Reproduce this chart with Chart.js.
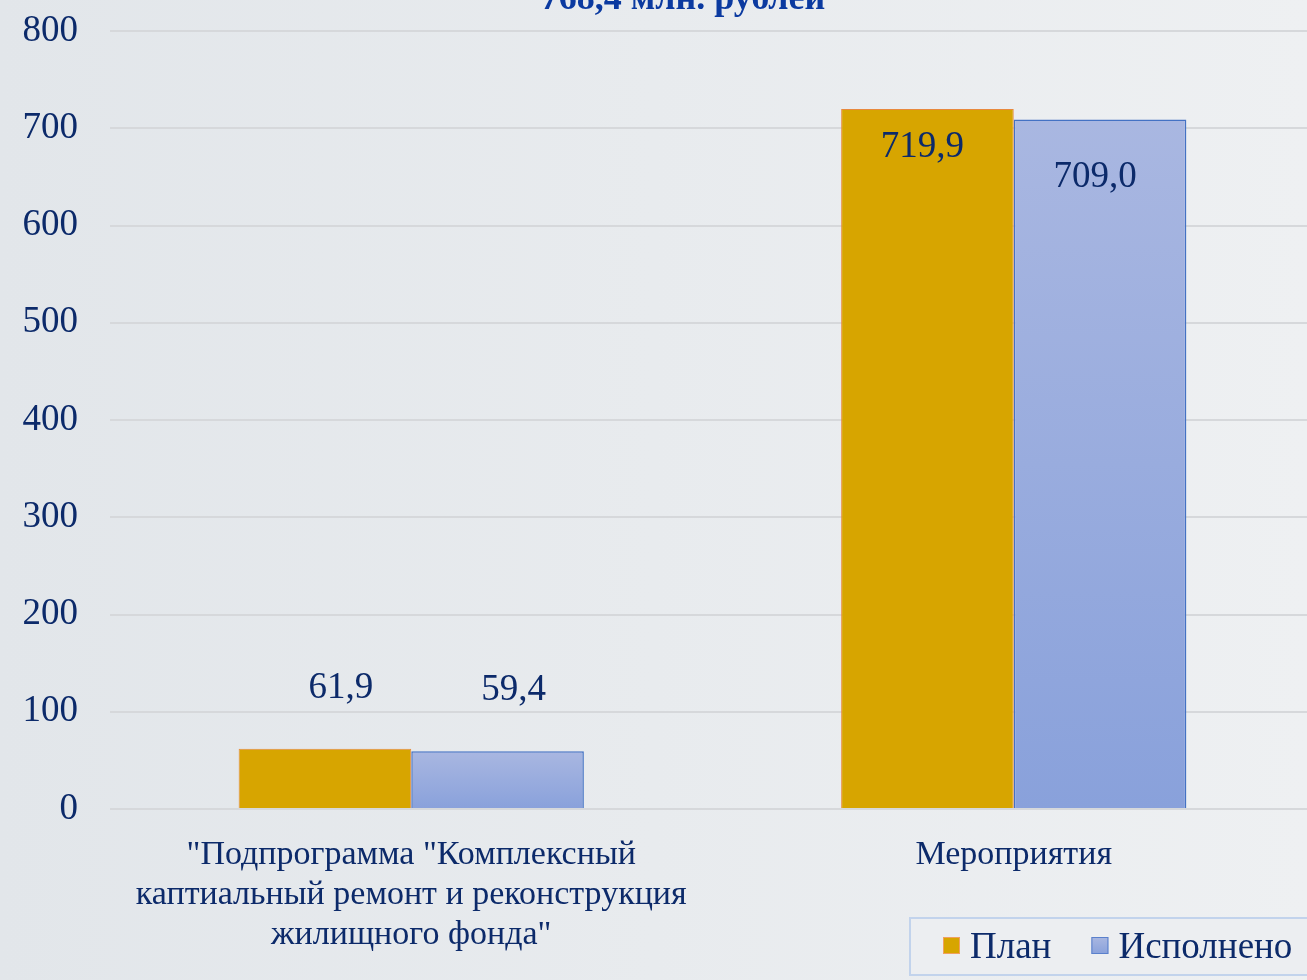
<!DOCTYPE html>
<html>
<head>
<meta charset="utf-8">
<script src="https://cdn.jsdelivr.net/npm/chart.js@4/dist/chart.umd.min.js"></script>
<style>
  html, body { margin: 0; padding: 0; }
  body {
    width: 1307px; height: 980px; overflow: hidden; position: relative;
    background: linear-gradient(90deg, #e2e6ea 0%, #e8ebee 50%, #eef0f2 100%);
  }
  #myChart { position: absolute; left: 0; top: -30px; }
</style>
</head>
<body>
<canvas id="myChart" width="1315" height="1010"></canvas>
<script>
var titleText = '768,4 млн. рублей';
var categories = [
  ['"Подпрограмма "Комплексный', 'каптиальный ремонт и реконструкция', 'жилищного фонда"'],
  'Мероприятия'
];
var seriesNames = ['План', 'Исполнено'];
var planValues = [61.9, 719.9];
var doneValues = [59.4, 709.0];
var yTicks = [0, 100, 200, 300, 400, 500, 600, 700, 800];

var OFFSET = 30;          // canvas is shifted up so the title is cut off like the reference
var FONT = '"Liberation Serif", "Times New Roman", serif';
var NAVY = '#0c2a6a';

function fmt(v) {
  return v.toFixed(1).replace('.', ',');
}

function blueFill(ctx) {
  var chart = ctx.chart;
  var area = chart.chartArea;
  if (!area) return '#98acdf';
  var v = ctx.raw;
  if (typeof v !== 'number') v = 800;
  var top = chart.scales.y.getPixelForValue(v);
  var g = chart.ctx.createLinearGradient(0, top, 0, area.bottom);
  g.addColorStop(0, '#a9b7e1');
  g.addColorStop(1, '#89a1db');
  return g;
}

var titlePlugin = {
  id: 'cutTitle',
  afterDraw(chart) {
    var c = chart.ctx;
    c.save();
    c.font = 'bold 36px ' + FONT;
    c.fillStyle = '#0b3aa0';
    c.textAlign = 'center';
    c.textBaseline = 'alphabetic';
    c.fillText(titleText, 683, 9 + OFFSET);
    c.restore();
  }
};

var valueLabels = {
  id: 'valueLabels',
  afterDatasetsDraw(chart) {
    var c = chart.ctx;
    c.save();
    c.font = '37px ' + FONT;
    c.fillStyle = NAVY;
    c.textAlign = 'center';
    c.textBaseline = 'alphabetic';
    chart.data.datasets.forEach((ds, i) => {
      chart.getDatasetMeta(i).data.forEach((bar, j) => {
        var v = ds.data[j];
        var y = v > 300 ? bar.y + 48 + i * 20 : bar.y - 51;
        var x = v > 300 ? bar.x - 5 : bar.x + 16;
        c.fillText(fmt(v), x, y);
      });
    });
    c.restore();
  }
};

var boxLegend = {
  id: 'boxLegend',
  afterDraw(chart) {
    var c = chart.ctx;
    var top = 918 + OFFSET;
    c.save();
    c.fillStyle = '#eceef1';
    c.fillRect(910, top, 420, 57);
    c.strokeStyle = '#c2d3ec';
    c.lineWidth = 2;
    c.strokeRect(910, top, 420, 57);
    c.font = '37px ' + FONT;
    c.textBaseline = 'middle';
    c.textAlign = 'left';
    var x = 943;
    chart.data.datasets.forEach((ds, i) => {
      var sq = 17;
      var sy = top + 19;
      if (i == 0) {
        c.fillStyle = '#d7a500';
      } else {
        var g = c.createLinearGradient(0, sy, 0, sy + sq);
        g.addColorStop(0, '#a9b7e1');
        g.addColorStop(1, '#89a1db');
        c.fillStyle = g;
      }
      c.fillRect(x, sy, sq, sq);
      c.strokeStyle = i == 0 ? '#f0a060' : '#5a80cc';
      c.lineWidth = 1;
      c.strokeRect(x + 0.5, sy + 0.5, sq - 1, sq - 1);
      c.fillStyle = NAVY;
      c.fillText(ds.label, x + sq + 10, top + 30);
      x += sq + 10 + c.measureText(ds.label).width + 40;
    });
    c.restore();
  }
};

var chart = new Chart(document.getElementById('myChart'), {
  type: 'bar',
  data: {
    labels: categories,
    datasets: [
      {
        label: seriesNames[0],
        data: planValues,
        backgroundColor: '#d7a500',
        borderColor: '#e8893e',
        borderWidth: 1,
        categoryPercentage: 0.573,
        barPercentage: 1
      },
      {
        label: seriesNames[1],
        data: doneValues,
        backgroundColor: blueFill,
        borderColor: '#4472c4',
        borderWidth: 1.5,
        categoryPercentage: 0.573,
        barPercentage: 1
      }
    ]
  },
  options: {
    responsive: false,
    animation: false,
    devicePixelRatio: 1,
    layout: { padding: { top: 61, left: 0, right: 0, bottom: 0 } },
    plugins: {
      legend: { display: false },
      title: { display: false },
      tooltip: { enabled: false }
    },
    scales: {
      x: {
        grid: { display: false },
        border: { display: false },
        ticks: {
          color: NAVY,
          font: { family: FONT, size: 34, lineHeight: 1.18 },
          padding: 18,
          maxRotation: 0,
          autoSkip: false
        },
        afterFit(scale) { scale.height = 1010 - (809 + OFFSET); }
      },
      y: {
        min: 0,
        max: 800,
        afterBuildTicks(scale) { scale.ticks = yTicks.map(v => ({ value: v })); },
        grid: { color: '#d6d8db', lineWidth: 2, drawTicks: false },
        border: { display: false },
        ticks: {
          color: NAVY,
          font: { family: FONT, size: 37 },
          padding: 32
        },
        afterFit(scale) { scale.width = 110; }
      }
    }
  },
  plugins: [titlePlugin, valueLabels, boxLegend]
});
</script>
</body>
</html>
